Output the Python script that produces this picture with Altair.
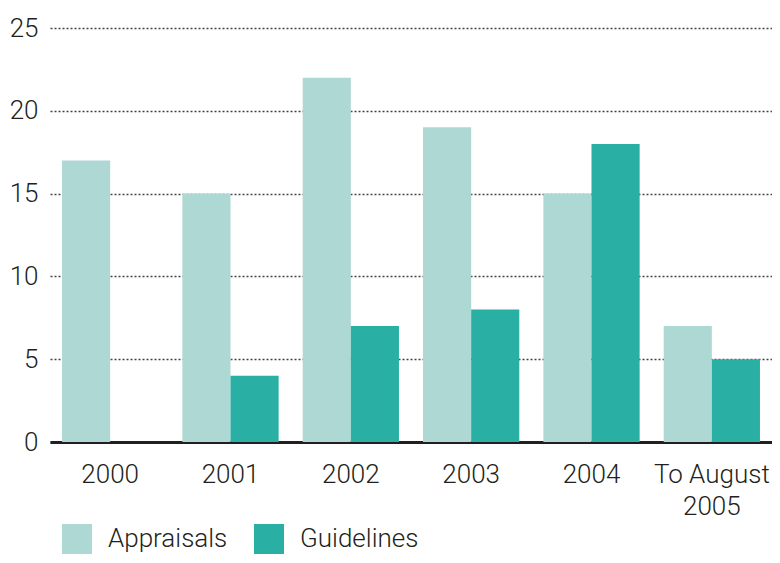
import altair as alt
import pandas as pd

categories = ["2000", "2001", "2002", "2003", "2004", "To August\n2005"]
appraisals = [17, 15, 22, 19, 15, 7]
guidelines = [0, 4, 7, 8, 18, 5]
series = ["Appraisals", "Guidelines"]
colors = ["#aed8d4", "#2aafa5"]

rows = []
for c, a, g in zip(categories, appraisals, guidelines):
    rows.append({"year": c, "series": "Appraisals", "value": a})
    rows.append({"year": c, "series": "Guidelines", "value": g})
df = pd.DataFrame(rows)

FONT = "Roboto"
FS = 26

chart = alt.Chart(df).mark_bar().encode(
    x=alt.X("year:N", sort=categories, title=None,
            scale=alt.Scale(paddingInner=0.2, paddingOuter=0.1),
            axis=alt.Axis(labelAngle=0, labelExpr="split(datum.label, '\\n')",
                          labelFontSize=FS, labelFont=FONT, labelFontWeight=300,
                          labelColor="#231f20",
                          labelPadding=19, labelLineHeight=32,
                          ticks=False, domainColor="#231f20", domainWidth=3,
                          labelBaseline="top")),
    xOffset=alt.XOffset("series:N", sort=series, scale=alt.Scale(paddingInner=0, paddingOuter=0)),
    y=alt.Y("value:Q", title=None,
            scale=alt.Scale(domain=[0, 25], nice=False),
            axis=alt.Axis(values=[0, 5, 10, 15, 20, 25], labelFontSize=FS, labelFont=FONT,
                          labelFontWeight=300,
                          labelColor="#231f20", labelPadding=12, ticks=False, domain=False,
                          grid=True, gridColor="#444444", gridDash=[2, 2], gridWidth=1.3)),
    color=alt.Color("series:N", sort=series,
                    scale=alt.Scale(domain=series, range=colors),
                    legend=alt.Legend(title=None, orient="none", direction="horizontal",
                                      legendX=12, legendY=496,
                                      symbolType="square", symbolSize=900, symbolStrokeWidth=0,
                                      labelFontSize=FS, labelFont=FONT, labelFontWeight=300,
                                      labelColor="#231f20",
                                      labelOffset=16, columnPadding=26, symbolOpacity=1)),
).properties(
    width=722, height=414,
    autosize=alt.AutoSizeParams(type="none"),
    padding={"left": 42, "top": 20, "right": 0, "bottom": 113},
).configure_view(stroke=None)

chart.save("out.html", embed_options={"renderer": "svg", "actions": False})
